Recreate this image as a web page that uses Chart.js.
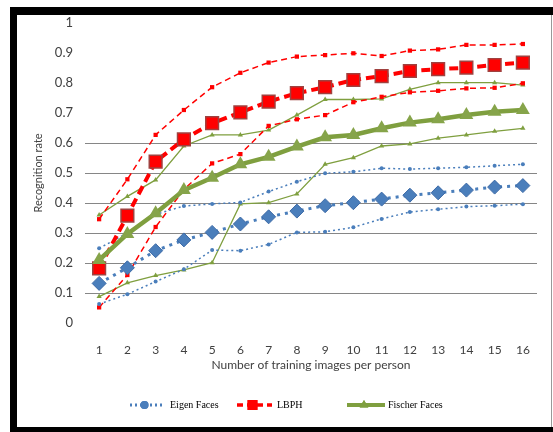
<!DOCTYPE html>
<html>
<head>
<meta charset="utf-8">
<script src="https://cdn.jsdelivr.net/npm/chart.js@4"></script>
<style>
    body { margin: 0; background: #fff; }
    #wrap { position: relative; width: 553px; height: 432px; overflow: hidden; }
    #chart { position: absolute; left: 0; top: 0; }
    .bar { position: absolute; background: #000; }
</style>
</head>
<body>
<div id="wrap">
    <canvas id="chart" width="553" height="432"></canvas>
    <div class="bar" style="left:10px;top:7px;width:543px;height:8px"></div>
    <div class="bar" style="left:10px;top:7px;width:7px;height:425px"></div>
    <div class="bar" style="left:10px;top:427px;width:543px;height:5px"></div>
    <div class="bar" style="left:551px;top:15px;width:1px;height:412px;background:#999"></div>
</div>
<script>
const imagesPerPerson = ['1', '2', '3', '4', '5', '6', '7', '8', '9', '10', '11', '12', '13', '14', '15', '16'];

const eigenMean  = [0.132, 0.184, 0.241, 0.277, 0.302, 0.330, 0.354, 0.373, 0.391, 0.401, 0.413, 0.426, 0.434, 0.443, 0.453, 0.458];
const eigenUpper = [0.249, 0.300, 0.362, 0.390, 0.397, 0.402, 0.438, 0.471, 0.499, 0.504, 0.516, 0.513, 0.516, 0.519, 0.524, 0.529];
const eigenLower = [0.063, 0.096, 0.138, 0.179, 0.243, 0.241, 0.262, 0.302, 0.304, 0.319, 0.347, 0.370, 0.379, 0.388, 0.391, 0.396];

const lbphMean  = [0.182, 0.358, 0.538, 0.612, 0.666, 0.702, 0.738, 0.766, 0.786, 0.810, 0.823, 0.840, 0.846, 0.851, 0.860, 0.868];
const lbphUpper = [0.346, 0.479, 0.627, 0.710, 0.786, 0.834, 0.868, 0.888, 0.893, 0.899, 0.890, 0.908, 0.912, 0.927, 0.927, 0.930];
const lbphLower = [0.052, 0.160, 0.320, 0.445, 0.532, 0.563, 0.657, 0.679, 0.693, 0.736, 0.754, 0.769, 0.774, 0.782, 0.784, 0.799];

const fischerMean  = [0.210, 0.297, 0.366, 0.443, 0.484, 0.529, 0.554, 0.588, 0.619, 0.627, 0.649, 0.668, 0.679, 0.693, 0.704, 0.710];
const fischerUpper = [0.360, 0.422, 0.477, 0.590, 0.627, 0.627, 0.643, 0.693, 0.745, 0.745, 0.747, 0.779, 0.801, 0.801, 0.801, 0.793];
const fischerLower = [0.088, 0.134, 0.158, 0.177, 0.201, 0.397, 0.401, 0.430, 0.529, 0.551, 0.590, 0.597, 0.616, 0.627, 0.639, 0.649];

const BLUE = '#4a7ebb', RED = '#ff0000', GREEN = '#7f9f3f';

function band(data, color, dash, style, r, width) {
    return {
        label: '', data: data, borderColor: color, backgroundColor: color,
        borderWidth: width, borderDash: dash, pointStyle: style, pointRadius: r,
        pointBorderWidth: 0, fill: false, tension: 0, order: 5
    };
}

// legend drawn by hand: line sample + marker + serif text
const legendPlugin = {
    id: 'sampleLegend',
    afterDraw(chart) {
        const ctx = chart.ctx;
        const items = [
            {x0: 130, x1: 163, tx: 170, text: 'Eigen Faces', color: BLUE, dash: [2, 3], w: 3, style: 'circle', r: 4},
            {x0: 237, x1: 272, tx: 277, text: 'LBPH', color: RED, dash: [6, 4], w: 3.5, style: 'rect', r: 7},
            {x0: 347, x1: 385, tx: 388, text: 'Fischer Faces', color: GREEN, dash: [], w: 4, style: 'triangle', r: 5}
        ];
        const y = 405;
        ctx.save();
        items.forEach(it => {
            ctx.strokeStyle = it.color;
            ctx.lineWidth = it.w;
            ctx.setLineDash(it.dash);
            ctx.beginPath();
            ctx.moveTo(it.x0, y);
            ctx.lineTo(it.x1, y);
            ctx.stroke();
            ctx.setLineDash([]);
            ctx.fillStyle = it.color;
            Chart.helpers.drawPoint(ctx, {pointStyle: it.style, radius: it.r, borderWidth: 0}, (it.x0 + it.x1) / 2 - 2, y);
            ctx.fill();
            ctx.fillStyle = '#000';
            ctx.font = '10px "Liberation Serif", serif';
            ctx.textBaseline = 'middle';
            ctx.fillText(it.text, it.tx, y);
        });
        ctx.restore();
    }
};

new Chart(document.getElementById('chart').getContext('2d'), {
    type: 'line',
    data: {
        labels: imagesPerPerson,
        datasets: [
            band(eigenUpper, BLUE, [2, 3], 'circle', 2, 1.5),
            band(eigenLower, BLUE, [2, 3], 'circle', 2, 1.5),
            band(lbphUpper, RED, [6, 4], 'rect', 3, 1.5),
            band(lbphLower, RED, [6, 4], 'rect', 3, 1.5),
            band(fischerUpper, GREEN, [], 'triangle', 3, 1.3),
            band(fischerLower, GREEN, [], 'triangle', 3, 1.3),
            {
                label: 'Eigen Faces', data: eigenMean, borderColor: BLUE, backgroundColor: BLUE,
                borderWidth: 3, borderDash: [3, 5], pointStyle: 'rectRot', pointRadius: 7,
                pointBorderColor: '#3c6aa6', pointBorderWidth: 1, tension: 0, order: 2
            },
            {
                label: 'LBPH', data: lbphMean, borderColor: RED, backgroundColor: RED,
                borderWidth: 4, borderDash: [9, 5], pointStyle: 'rect', pointRadius: 9,
                pointBorderColor: '#a0413f', pointBorderWidth: 1.5, tension: 0, order: 1
            },
            {
                label: 'Fischer Faces', data: fischerMean, borderColor: GREEN, backgroundColor: '#86a44a',
                borderWidth: 4.5, pointStyle: 'triangle', pointRadius: 8,
                pointBorderWidth: 0, tension: 0, order: 0
            }
        ]
    },
    options: {
        responsive: false,
        animation: false,
        layout: {padding: {left: 0, right: 16, top: 23, bottom: 49}},
        plugins: {
            legend: {display: false},
            tooltip: {enabled: false}
        },
        scales: {
            x: {
                offset: true,
                grid: {display: false},
                border: {display: false},
                ticks: {color: '#404040', font: {family: 'Lato', size: 12}, padding: 12},
                title: {
                    display: true, text: 'Number of training images per person',
                    color: '#404040', font: {family: 'Lato', size: 12}, padding: {top: 0, bottom: 11}
                },
                afterFit: scale => { scale.height = 60; }
            },
            y: {
                min: 0, max: 1,
                grid: {
                    color: c => (c.tick && c.tick.value > 0.05 && c.tick.value < 0.65) ? '#868686' : 'rgba(0,0,0,0)',
                    drawTicks: false
                },
                border: {display: false},
                ticks: {
                    stepSize: 0.1, color: '#404040', font: {family: 'Lato', size: 13}, padding: 12,
                    callback: v => (Math.abs(v - 1) < 1e-9 ? '1' : Math.abs(v) < 1e-9 ? '0' : v.toFixed(1))
                },
                title: {
                    display: true, text: 'Recognition rate',
                    color: '#404040', font: {family: 'Lato', size: 11}, padding: {top: 32, bottom: 0}
                },
                afterFit: scale => { scale.width = 85; }
            }
        }
    },
    plugins: [legendPlugin]
});
</script>
</body>
</html>
